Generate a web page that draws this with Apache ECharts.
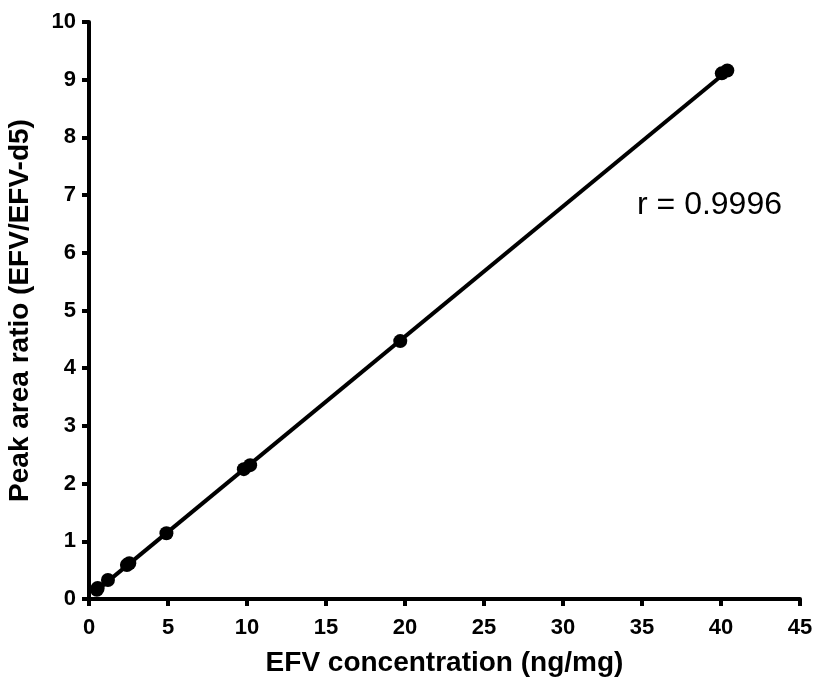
<!DOCTYPE html>
<html>
<head>
<meta charset="utf-8">
<script src="https://cdn.jsdelivr.net/npm/echarts@6/dist/echarts.min.js"></script>
<style>
  html, body { margin: 0; padding: 0; background: #fff; }
  #chart { width: 816px; height: 679px; }
</style>
</head>
<body>
<div id="chart"></div>
<script>
var concX = [0.5, 0.55, 1.2, 2.4, 2.55, 4.9, 9.8, 10.2, 19.7, 40.05, 40.4];
var ratioY = [0.16, 0.19, 0.33, 0.59, 0.62, 1.14, 2.25, 2.32, 4.47, 9.11, 9.16];
// ends of the fitted line
var fitX = [0.5, 40.3];
var fitY = [0.15, 9.13];
var rText = 'r = 0.9996';

var points = concX.map(function (x, i) { return [x, ratioY[i]]; });
var fit = fitX.map(function (x, i) { return [x, fitY[i]]; });

var font = '"Liberation Sans", Arial, sans-serif';
var axisLine = { show: true, lineStyle: { color: '#000', width: 4 } };
var axisTick = { show: true, length: 7, inside: false, lineStyle: { color: '#000', width: 4 } };
var tickFont = { color: '#000', fontSize: 22, fontWeight: 'bold', fontFamily: font };
var titleFont = { color: '#000', fontSize: 28, fontWeight: 'bold', fontFamily: font };

var chart = echarts.init(document.getElementById('chart'));
chart.setOption({
    animation: false,
    backgroundColor: '#fff',
    grid: { left: 89, right: 16, top: 22, bottom: 80, containLabel: false, outerBoundsMode: 'none' },
    xAxis: {
        type: 'value', min: 0, max: 45, interval: 5,
        name: 'EFV concentration (ng/mg)', nameLocation: 'middle', nameGap: 50,
        nameTextStyle: titleFont,
        axisLine: axisLine, axisTick: axisTick, splitLine: { show: false },
        axisLabel: Object.assign({ margin: 18 }, tickFont)
    },
    yAxis: {
        type: 'value', min: 0, max: 10, interval: 1,
        name: 'Peak area ratio (EFV/EFV-d5)', nameLocation: 'middle', nameGap: 55,
        nameTextStyle: titleFont,
        axisLine: axisLine, axisTick: axisTick, splitLine: { show: false },
        axisLabel: Object.assign({ margin: 13 }, tickFont)
    },
    graphic: [{
        type: 'text', left: 637, top: 189,
        style: { text: rText, fill: '#000', font: '32px ' + font }
    }],
    series: [{
        type: 'line', data: fit, symbol: 'none', silent: true,
        lineStyle: { color: '#000', width: 4 }
    }, {
        type: 'scatter', data: points, symbol: 'circle', symbolSize: 14,
        itemStyle: { color: '#000', opacity: 1 }
    }]
});
</script>
</body>
</html>
